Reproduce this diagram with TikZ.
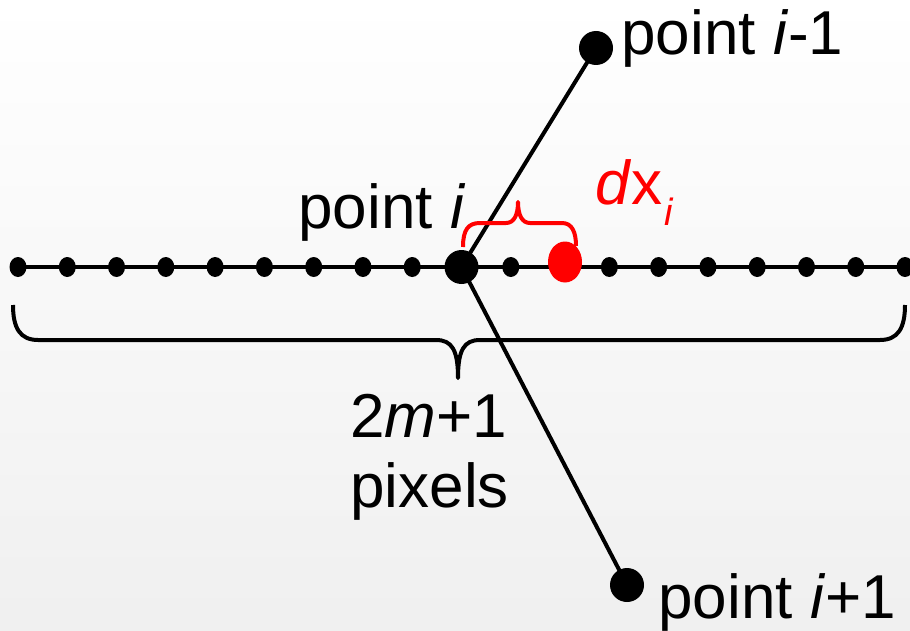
\documentclass[tikz,border=0pt]{standalone}
\usepackage{fontspec}
\setmainfont{Liberation Sans}
\usetikzlibrary{shapes.geometric}
\begin{document}
\begin{tikzpicture}[x=0.5pt, y=-0.5pt, line join=round,
    pix/.style={ellipse, fill, inner sep=0pt, minimum width=8.5pt, minimum height=10pt},
    bigpt/.style={circle, fill, inner sep=0pt, minimum size=17pt},
    lbl/.style={anchor=base west, inner sep=0pt, font=\fontsize{31}{35}\selectfont}]
  \useasboundingbox (0,0) rectangle (910,631);
  \shade[top color=white, bottom color=black!6] (0,0) rectangle (910,631);
  \foreach \k in {0,1,...,18} { \coordinate (c\k) at ({18+49.28*\k},267); }
  \draw[line width=2pt] (c0) -- (c18);
  \foreach \k in {0,1,...,8,10,12,13,...,18} { \node[pix] (p\k) at (c\k) {}; }
  \node[bigpt] (pi) at (c9) {};
  \node[pix, fill=red, minimum width=17pt, minimum height=20.5pt] (sub) at (565,262) {};
  \node[bigpt] (pprev) at (596,48) {};
  \node[bigpt] (pnext) at (627,585) {};
  \draw[line width=2pt] (pprev.center) -- (pi.center) -- (pnext.center);
  \draw[line width=2pt] (13,305) .. controls (13,328) and (20,340) .. (38,340) -- (436,340) .. controls (452,340) and (458,350) .. (458,378) .. controls (458,350) and (464,340) .. (480,340) -- (880,340) .. controls (898,340) and (905,328) .. (905,305);
  \draw[red, line width=2pt] (463,247) .. controls (463,230) and (468,223) .. (480,223) -- (506,223) .. controls (514,223) and (518,215) .. (518,202) .. controls (518,215) and (522,223) .. (530,223) -- (562,223) .. controls (572,223) and (576,232) .. (576,246);
  \node[lbl] (lprev) at (621,55) {point \textit{i}-1};
  \node[lbl] (lnext) at (658,618) {point \textit{i}+1};
  \node[lbl] (li) at (298,228) {point \textit{i}};
  \node[lbl, red] (ldx) at (595,205) {\textit{d}x\kern1pt\raisebox{-10pt}{\fontsize{19}{19}\selectfont\textit{i}}};
  \node[lbl] (lwidth) at (350,437) {2\textit{m}+1};
  \node[lbl] (lpix) at (350,507) {pixels};
\end{tikzpicture}
\end{document}
